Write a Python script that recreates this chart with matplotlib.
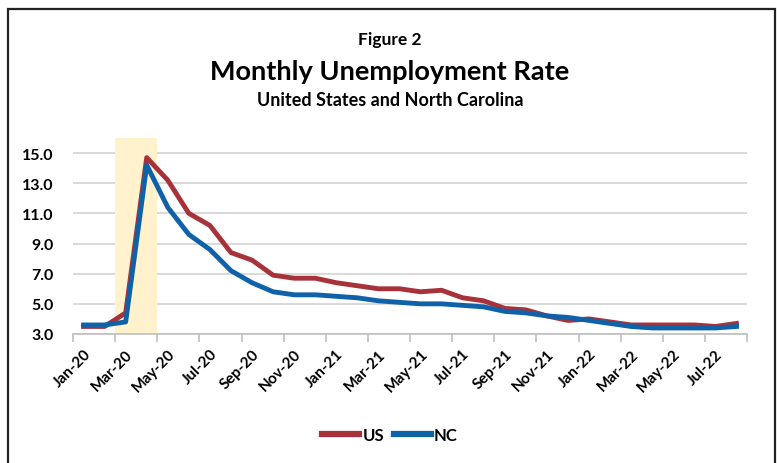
import matplotlib
matplotlib.use("Agg")
import matplotlib.pyplot as plt
from matplotlib.patches import Rectangle
from matplotlib.lines import Line2D
import numpy as np

# monthly unemployment rate, Jan-20 .. Aug-22
months = ["Jan-20", "Feb-20", "Mar-20", "Apr-20", "May-20", "Jun-20", "Jul-20", "Aug-20",
          "Sep-20", "Oct-20", "Nov-20", "Dec-20", "Jan-21", "Feb-21", "Mar-21", "Apr-21",
          "May-21", "Jun-21", "Jul-21", "Aug-21", "Sep-21", "Oct-21", "Nov-21", "Dec-21",
          "Jan-22", "Feb-22", "Mar-22", "Apr-22", "May-22", "Jun-22", "Jul-22", "Aug-22"]
us = [3.5, 3.5, 4.4, 14.7, 13.2, 11.0, 10.2, 8.4, 7.9, 6.9, 6.7, 6.7,
      6.4, 6.2, 6.0, 6.0, 5.8, 5.9, 5.4, 5.2, 4.7, 4.6, 4.2, 3.9,
      4.0, 3.8, 3.6, 3.6, 3.6, 3.6, 3.5, 3.7]
nc = [3.6, 3.6, 3.8, 14.2, 11.4, 9.6, 8.6, 7.2, 6.4, 5.8, 5.6, 5.6,
      5.5, 5.4, 5.2, 5.1, 5.0, 5.0, 4.9, 4.8, 4.5, 4.4, 4.2, 4.1,
      3.9, 3.7, 3.5, 3.4, 3.4, 3.4, 3.4, 3.5]
shade_months = ["Mar-20", "Apr-20"]
yticks = [3.0, 5.0, 7.0, 9.0, 11.0, 13.0, 15.0]

US_C = "#A8323A"
NC_C = "#0F62A8"
FONT = ["Lato", "DejaVu Sans"]

plt.rcParams["font.family"] = FONT
fig = plt.figure(figsize=(7.77, 4.64), dpi=100)

# outer frame (bottom edge cropped off)
fig.patches.append(Rectangle((8 / 777, -0.05), 767 / 777, 1.05 - 10 / 464, transform=fig.transFigure,
                             fill=False, edgecolor="#222222", lw=1.6))

fig.text(0.502, 1 - 40 / 464, "Figure 2", ha="center", va="center", fontsize=12.5, fontweight="bold")
fig.text(0.502, 1 - 72 / 464, "Monthly Unemployment Rate", ha="center", va="center", fontsize=19.5,
         fontweight="bold")
fig.text(0.502, 1 - 101 / 464, "United States and North Carolina", ha="center", va="center", fontsize=13,
         fontweight="bold")

ax = fig.add_axes([73 / 777, 1 - 335 / 464, 674 / 777, 196 / 464])
x = np.arange(len(months))

i0 = months.index(shade_months[0]); i1 = months.index(shade_months[-1])
ax.axvspan(i0 - 0.5, i1 + 0.5, color="#FFF2CC", zorder=1, lw=0)

ax.plot(x, us, color=US_C, lw=3.5, zorder=3, solid_joinstyle="round")
ax.plot(x, nc, color=NC_C, lw=3.5, zorder=4, solid_joinstyle="round")

ax.set_xlim(-0.5, len(months) - 0.5)
ax.set_ylim(3, 16)
ax.set_yticks(yticks)
ax.set_yticklabels([f"{v:.1f}" for v in yticks], fontsize=11.5, fontweight="bold")
ax.tick_params(axis="y", length=0, pad=14)
ax.grid(axis="y", color="#D9D9D9", lw=1.4, zorder=0)
ax.set_axisbelow(True)

ax.set_xticks(x[::2])
ax.set_xticklabels(months[::2], rotation=45, ha="right", rotation_mode="anchor", fontsize=11,
                   fontweight="bold")
ax.set_xticks(np.arange(-0.5, len(months), 2), minor=True)
ax.tick_params(axis="x", which="major", length=0, pad=9)
ax.tick_params(axis="x", which="minor", length=6, color="#BFBFBF", width=1.2)

for s in ["top", "right", "left"]:
    ax.spines[s].set_visible(False)
ax.spines["bottom"].set_color("#BFBFBF")
ax.spines["bottom"].set_linewidth(1.2)

handles = [Line2D([], [], color=US_C, lw=4.5), Line2D([], [], color=NC_C, lw=4.5)]
fig.legend(handles, ["US", "NC"], loc="center", bbox_to_anchor=(0.502, 1 - 436 / 464), ncol=2, frameon=False,
           handlelength=2.2, handletextpad=0.2, columnspacing=0.6,
           prop={"family": FONT, "weight": "bold", "size": 12})

fig.savefig("out.png", dpi=100, facecolor="white")
